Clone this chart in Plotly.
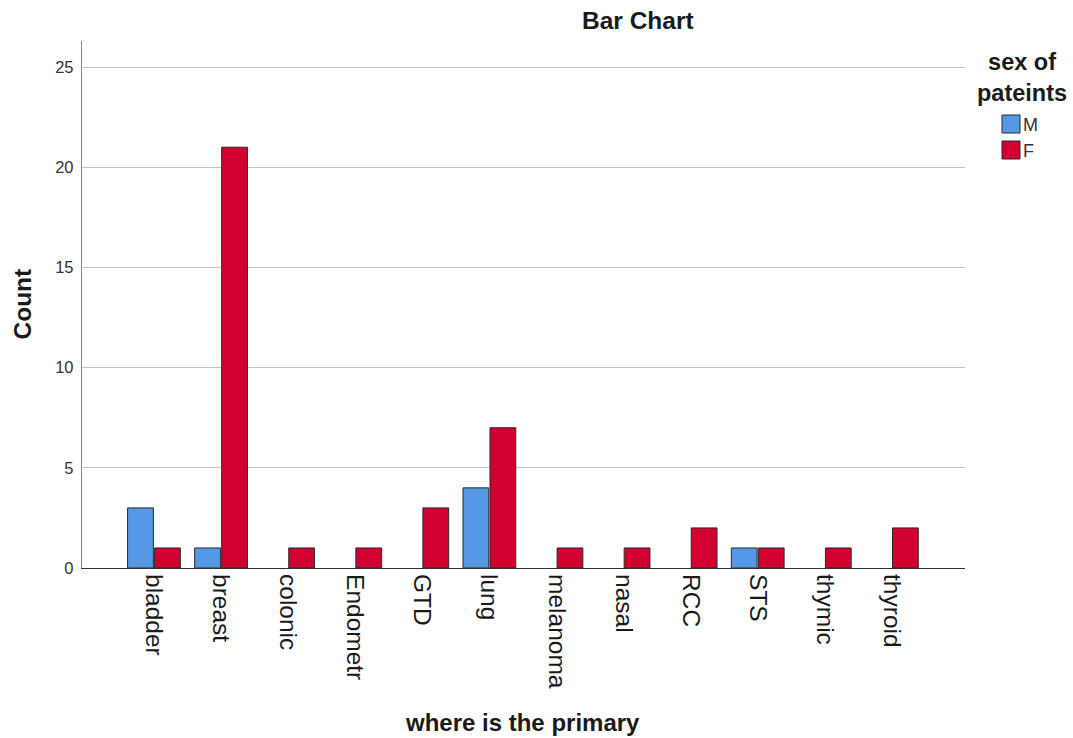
import plotly.graph_objects as go

categories = ["bladder", "breast", "colonic", "Endometr", "GTD", "lung",
              "melanoma", "nasal", "RCC", "STS", "thymic", "thyroid"]
male_counts = [3, 1, None, None, None, 4, None, None, None, 1, None, None]
female_counts = [1, 21, 1, 1, 3, 7, 1, 1, 2, 1, 1, 2]
series_names = ["M", "F"]
series_colors = ["#5598E3", "#D20030"]
y_ticks = [0, 5, 10, 15, 20, 25]

FONT = "Liberation Sans, Arial, sans-serif"
EDGE = "#2b2b2b"

fig = go.Figure()
fig.add_trace(go.Bar(x=categories, y=male_counts, name=series_names[0],
                     marker=dict(color=series_colors[0], line=dict(color=EDGE, width=1))))
fig.add_trace(go.Bar(x=categories, y=female_counts, name=series_names[1],
                     marker=dict(color=series_colors[1], line=dict(color=EDGE, width=1))))

L, R, T, B = 82, 108, 41, 170
W, H = 1073, 738
pw = W - L - R
ph = H - T - B


def px_x(x):
    return (x - L) / pw


def px_y(y):
    return (H - B - y) / ph


shapes = []
annotations = [
    dict(text="<b>Bar Chart</b>", xref="paper", yref="paper",
         x=px_x(638), y=px_y(20), xanchor="center", yanchor="middle",
         showarrow=False, font=dict(size=24.5, family=FONT, color="#1a1a1a")),
    dict(text="<b>where is the primary</b>", xref="paper", yref="paper",
         x=px_x(522), y=px_y(722), xanchor="center", yanchor="middle",
         showarrow=False, font=dict(size=24, family=FONT, color="#1a1a1a")),
    dict(text="<b>Count</b>", xref="paper", yref="paper",
         x=px_x(22), y=0.5, xanchor="center", yanchor="middle",
         textangle=-90, showarrow=False, font=dict(size=24.5, family=FONT, color="#1a1a1a")),
    dict(text="<b>sex of<br>pateints</b>", xref="paper", yref="paper",
         x=px_x(1022), y=px_y(77), xanchor="center", yanchor="middle", align="center",
         showarrow=False, font=dict(size=23.5, family=FONT, color="#1a1a1a")),
]

# legend (swatches + labels)
leg_tops = [115, 141]
for name, col, top in zip(series_names, series_colors, leg_tops):
    shapes.append(dict(type="rect", xref="paper", yref="paper",
                       x0=px_x(1002), x1=px_x(1020), y0=px_y(top + 18), y1=px_y(top),
                       fillcolor=col, line=dict(color=EDGE, width=1)))
    annotations.append(dict(text=name, xref="paper", yref="paper",
                            x=px_x(1021), y=px_y(top + 10), xanchor="left", yanchor="middle",
                            showarrow=False, font=dict(size=18, family=FONT, color="#333333")))

fig.update_layout(
    width=W, height=H,
    margin=dict(l=L, r=R, t=T, b=B, autoexpand=False),
    paper_bgcolor="white", plot_bgcolor="white",
    font=dict(family=FONT, color="#1a1a1a"),
    barmode="group", bargap=0.195, bargroupgap=0.045,
    showlegend=False,
    xaxis=dict(
        type="category", range=[-1.073, 12.09],
        showgrid=False, zeroline=False,
        showline=True, linecolor="#333333", linewidth=1.3,
        tickangle=90, ticks="", ticklen=0,
        tickfont=dict(size=24.5, family=FONT, color="#1a1a1a"),
    ),
    yaxis=dict(
        range=[0, 26.3], tickvals=y_ticks,
        showgrid=True, gridcolor="#c4c4c4", gridwidth=1.3,
        zeroline=False, showline=True, linecolor="#888888", linewidth=1.3,
        ticks="", ticklabelstandoff=4,
        tickfont=dict(size=16.5, family=FONT, color="#333333"),
    ),
    shapes=shapes,
    annotations=annotations,
)

fig.write_html("out.html", config={"displayModeBar": False},
               post_script="document.body.style.margin='0';")
